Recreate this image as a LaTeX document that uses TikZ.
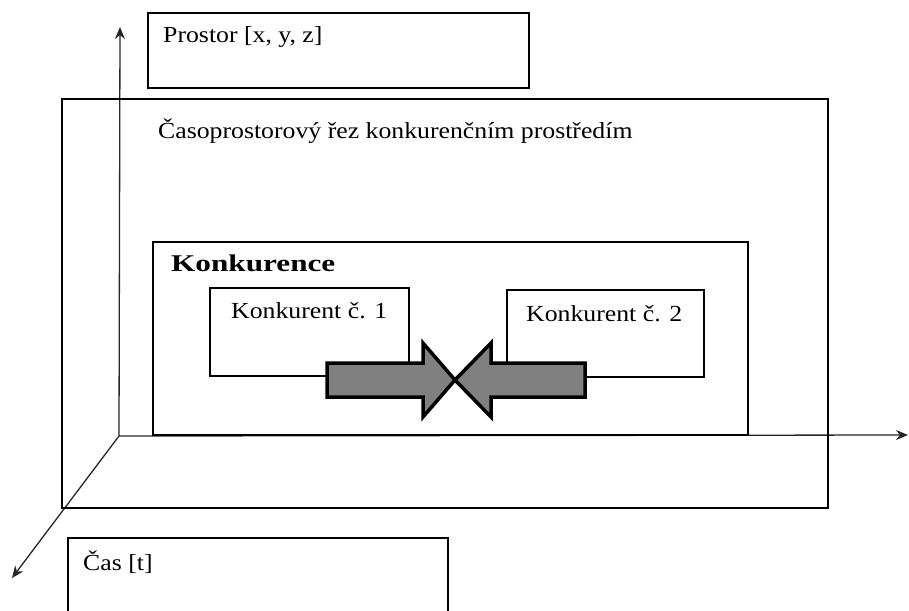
\documentclass[tikz,border=0pt]{standalone}
\usepackage{fontspec}
\setmainfont[FakeStretch=1.12]{Liberation Serif}
\newfontfamily\widefont[FakeStretch=1.3]{Liberation Serif}
\usetikzlibrary{arrows.meta,positioning}

\tikzset{
    box/.style={draw, rectangle, line width=1.2pt, inner sep=0pt, outer sep=0pt, anchor=north west},
    lbl/.style={anchor=base west, inner sep=0pt, font=\fontsize{23}{27}\selectfont},
    axis/.style={draw=black!85, line width=1.3pt, -{Stealth[length=12pt,width=10pt]}},
    blockarrow/.style={fill=black!50, draw=black, line width=3.5pt, miter limit=10}
}

\begin{document}
\begin{tikzpicture}[x=1pt, y=-1pt]
    \useasboundingbox (0,0) rectangle (909,610);

    \def\ym{380};   % middle of the two block arrows
    \def\sh{17};    % half shaft
    \def\hh{37};    % half head

% axes
    \coordinate (origin) at (119,436);
    \coordinate (ytip) at (120,27);
    \coordinate (xtip) at (908,435);
    \coordinate (ttip) at (12,578);
    \draw[axis] (origin) -- (ytip);
    \draw[axis] (origin) -- (xtip);
    \draw[axis] (origin) -- (ttip);

% boxes
    \node[box, minimum width=381pt, minimum height=75pt] (prostor) at (148,13) {};
    \node[box, minimum width=766pt, minimum height=409pt] (rez) at (62,99) {};
    \node[box, minimum width=595pt, minimum height=193pt] (konkurence) at (153,242) {};
    \node[box, minimum width=199pt, minimum height=88pt] (konk1) at (210,288) {};
    \node[box, minimum width=197pt, minimum height=87pt] (konk2) at (507,290) {};
    \node[box, minimum width=380pt, minimum height=80pt] (cas) at (68,538) {};

% texts
    \node[lbl] (prostorlbl) at (163,43) {Prostor [x, y, z]};
    \node[lbl] (rezlbl) at (158,138) {Časoprostorový řez konkurenčním prostředím};
    \node[lbl, font=\fontsize{24}{28}\widefont\bfseries] (konkurencelbl) at (171,271) {Konkurence};
    \node[lbl] (konk1lbl) at (231,318) {Konkurent č. 1};
    \node[lbl] (konk2lbl) at (526,321) {Konkurent č. 2};
    \node[lbl] (caslbl) at (83,570) {Čas [t]};

% block arrows meeting in the middle
    \coordinate (meet) at (455,\ym);
    \filldraw[blockarrow] (327,\ym - \sh) -- (423,\ym - \sh) -- (423,\ym - \hh) -- (meet)
        -- (423,\ym + \hh) -- (423,\ym + \sh) -- (327,\ym + \sh) -- cycle;
    \filldraw[blockarrow] (585,\ym - \sh) -- (491,\ym - \sh) -- (491,\ym - \hh) -- (meet)
        -- (491,\ym + \hh) -- (491,\ym + \sh) -- (585,\ym + \sh) -- cycle;

\end{tikzpicture}
\end{document}
